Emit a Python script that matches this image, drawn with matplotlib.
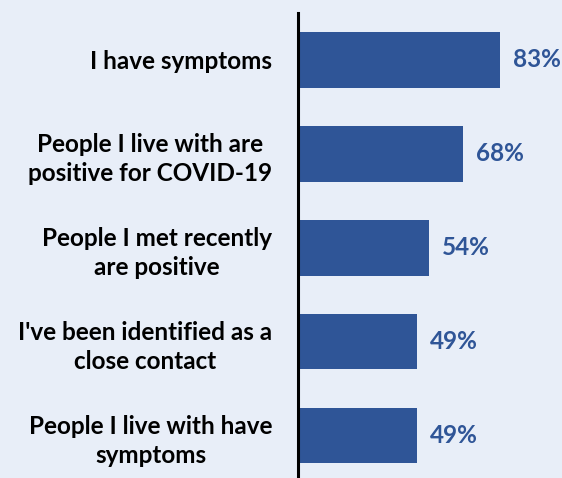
import matplotlib.pyplot as plt

labels = ["I have symptoms",
          "People I live with are\npositive for COVID-19",
          "People I met recently\nare positive",
          "I've been identified as a\nclose contact",
          "People I live with have\nsymptoms"]
values = [83, 68, 54, 49, 49]

bg = "#E8EEF8"
bar_color = "#2F5597"

plt.rcParams['font.family'] = ['Lato', 'DejaVu Sans']

fig = plt.figure(figsize=(5.62, 4.78), dpi=100)
fig.patch.set_facecolor(bg)
ax = fig.add_axes([298/562, 0, 264/562, 465/478])
ax.set_facecolor(bg)

y = range(len(values))
ax.barh(y, values, height=0.59, color=bar_color)
for yi, v in zip(y, values):
    ax.text(v + 5.3, yi, f"{v}%", va="center", ha="left",
            fontsize=17.5, fontweight="bold", color="#2F5597")

ax.set_xlim(0, 264 / 2.43)
ax.set_ylim(4.45, -0.5)
ax.set_yticks(list(y))
ax.set_yticklabels(labels, fontsize=17.5, fontweight="bold",
                   ha="right", multialignment="center", linespacing=1.32)
ax.tick_params(axis="y", length=0, pad=18.5)
ax.set_xticks([])
for s in ["top", "right", "bottom"]:
    ax.spines[s].set_visible(False)
ax.spines["left"].set_linewidth(2.2)
ax.spines["left"].set_color("black")

fig.savefig("out.png", dpi=100, facecolor=bg)
